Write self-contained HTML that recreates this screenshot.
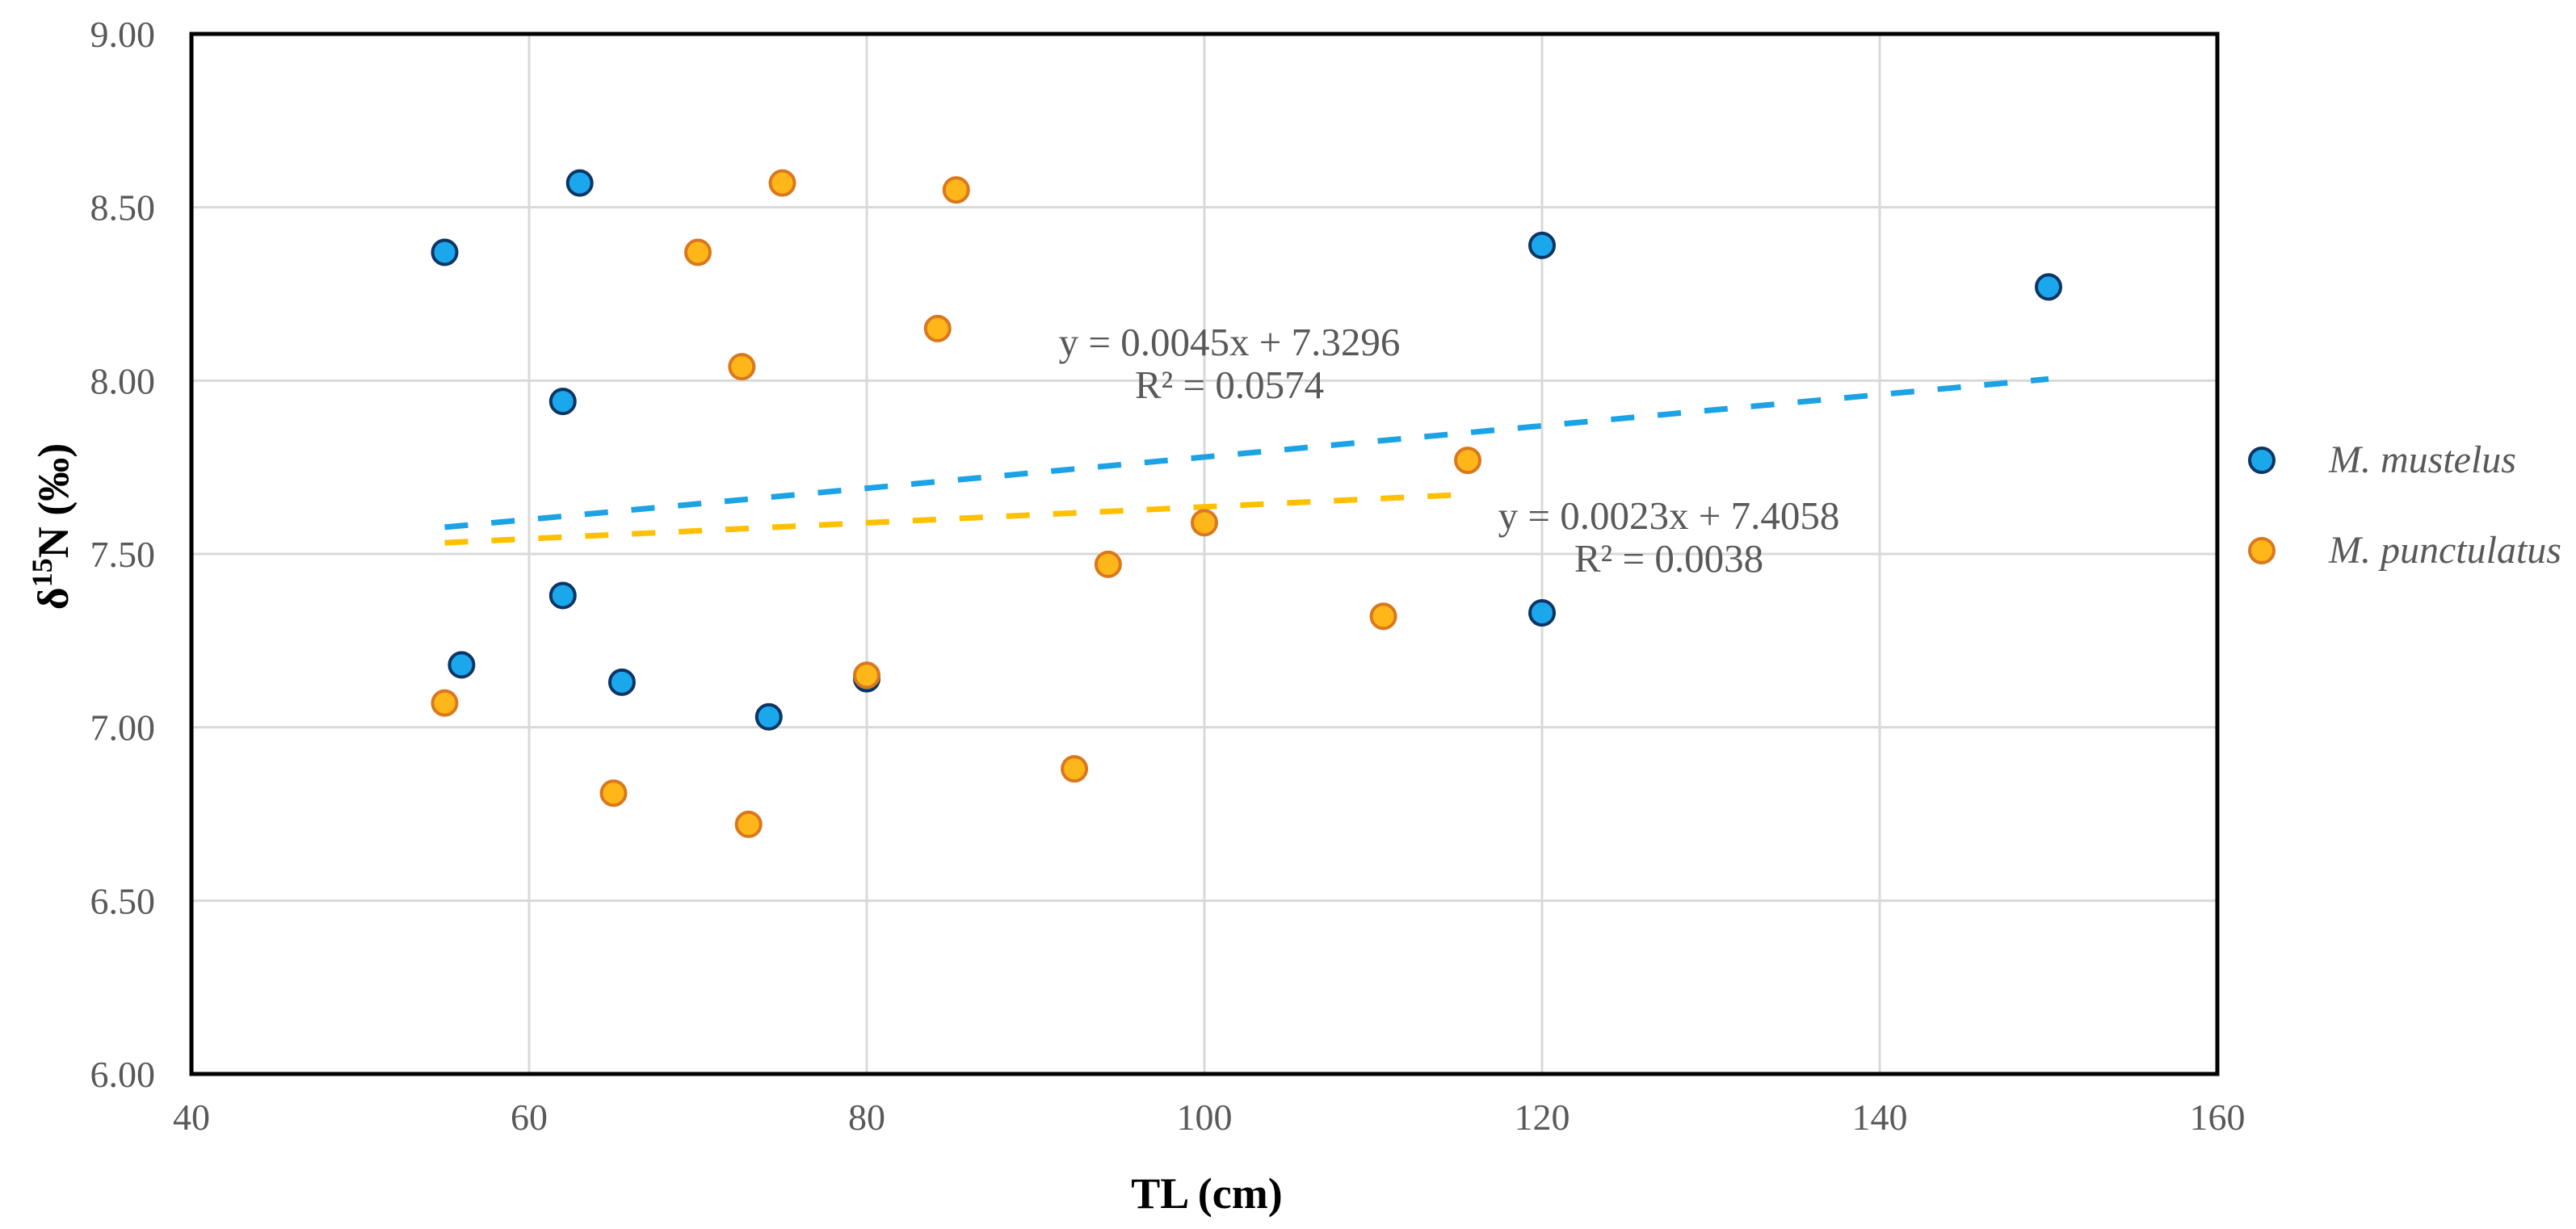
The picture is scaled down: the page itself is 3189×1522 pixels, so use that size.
<!DOCTYPE html>
<html><head><meta charset="utf-8"><style>
html,body{margin:0;padding:0;background:#fff;}
svg{display:block;font-family:"Liberation Serif",serif;}
</style></head><body>
<svg id="chart" width="3189" height="1522" viewBox="0 0 3189 1522" xmlns="http://www.w3.org/2000/svg">
<rect x="0" y="0" width="3189" height="1522" fill="#fff"/>
<g id="grid"></g>
<g id="ticks"></g>
<g id="trends"></g>
<g id="points"></g>
<rect x="237" y="42" width="2508" height="1288" fill="none" stroke="#000" stroke-width="5"/>
<text x="1494" y="1496" font-size="54" font-weight="bold" text-anchor="middle" fill="#000">TL (cm)</text>
<text transform="translate(84,652) rotate(-90)" font-size="54" font-weight="bold" text-anchor="middle" fill="#000">δ<tspan font-size="36" dy="-20">15</tspan><tspan dy="20">N (‰)</tspan></text>
<text x="1522" y="440" font-size="49" text-anchor="middle" fill="#595959">y = 0.0045x + 7.3296</text>
<text x="1522" y="493" font-size="49" text-anchor="middle" fill="#595959">R² = 0.0574</text>
<text x="2066" y="655" font-size="49" text-anchor="middle" fill="#595959">y = 0.0023x + 7.4058</text>
<text x="2066" y="708" font-size="49" text-anchor="middle" fill="#595959">R² = 0.0038</text>
<g>
<g>
<circle cx="2800" cy="570" r="15" fill="#1aa7ec" stroke="#0d3563" stroke-width="4"/>
<text x="2883" y="585" font-size="48" font-style="italic" fill="#595959">M. mustelus</text></g>
<g>
<circle cx="2800" cy="682" r="15" fill="#ffb619" stroke="#d9781e" stroke-width="4"/>
<text x="2883" y="697" font-size="48" font-style="italic" fill="#595959">M. punctulatus</text></g>
</g>
</svg>
<script>
const xTicks = [40, 60, 80, 100, 120, 140, 160];
const yTicks = [6.00, 6.50, 7.00, 7.50, 8.00, 8.50, 9.00];
const musX = [55, 63, 62, 62, 56, 65.5, 74.2, 80, 120, 120, 150];
const musY = [8.37, 8.57, 7.94, 7.38, 7.18, 7.13, 7.03, 7.14, 8.39, 7.33, 8.27];
const punX = [55, 65, 70, 72.6, 73, 75, 80, 84.2, 85.3, 92.3, 94.3, 100, 110.6, 115.6];
const punY = [7.07, 6.81, 8.37, 8.04, 6.72, 8.57, 7.15, 8.15, 8.55, 6.88, 7.47, 7.59, 7.32, 7.77];
const musTrend = [0.0045, 7.3296, 55, 150];
const punTrend = [0.0023, 7.4058, 55, 115];

const NS = "http://www.w3.org/2000/svg";
const L = 237, R = 2745, T = 42, B = 1330;
const xMin = 40, xMax = 160, yMin = 6, yMax = 9;
function sx(v){ return L + (v - xMin) / (xMax - xMin) * (R - L); }
function sy(v){ return B - (v - yMin) / (yMax - yMin) * (B - T); }
function mk(tag, attrs, parent){ const e = document.createElementNS(NS, tag); for (const k in attrs) e.setAttribute(k, attrs[k]); parent.appendChild(e); return e; }

const grid = document.getElementById('grid');
const ticks = document.getElementById('ticks');
xTicks.forEach(v => {
  const g = mk('line', {x1: sx(v), x2: sx(v), y1: T, y2: B, stroke: '#d9d9d9', 'stroke-width': 3}, grid);
  
  
  const t = mk('text', {x: sx(v), y: 1399, 'font-size': 46, 'text-anchor': 'middle', fill: '#595959'}, ticks);
  t.textContent = String(v);
  
  
});
yTicks.forEach(v => {
  const g = mk('line', {x1: L, x2: R, y1: sy(v), y2: sy(v), stroke: '#d9d9d9', 'stroke-width': 3}, grid);
  
  
  const t = mk('text', {x: 192, y: sy(v) + 16, 'font-size': 46, 'text-anchor': 'end', fill: '#595959'}, ticks);
  t.textContent = v.toFixed(2);
  
  
});

const trends = document.getElementById('trends');
function trend(p, color, name){
  const [m, b, x0, x1] = p;
  const l = mk('line', {x1: sx(x0), y1: sy(m*x0+b), x2: sx(x1), y2: sy(m*x1+b), stroke: color, 'stroke-width': 7, 'stroke-dasharray': '29 29'}, trends);
  
  
}
trend(musTrend, '#1ba3e6', 'trendline-mustelus');
trend(punTrend, '#ffc000', 'trendline-punctulatus');

const pts = document.getElementById('points');
musX.forEach((x, i) => {
  const c = mk('circle', {cx: sx(x), cy: sy(musY[i]), r: 15, fill: '#1aa7ec', stroke: '#0d3563', 'stroke-width': 4}, pts);
  
  
});
punX.forEach((x, i) => {
  const c = mk('circle', {cx: sx(x), cy: sy(punY[i]), r: 15, fill: '#ffb619', stroke: '#d9781e', 'stroke-width': 4}, pts);
  
  
});
</script>
</body></html>
